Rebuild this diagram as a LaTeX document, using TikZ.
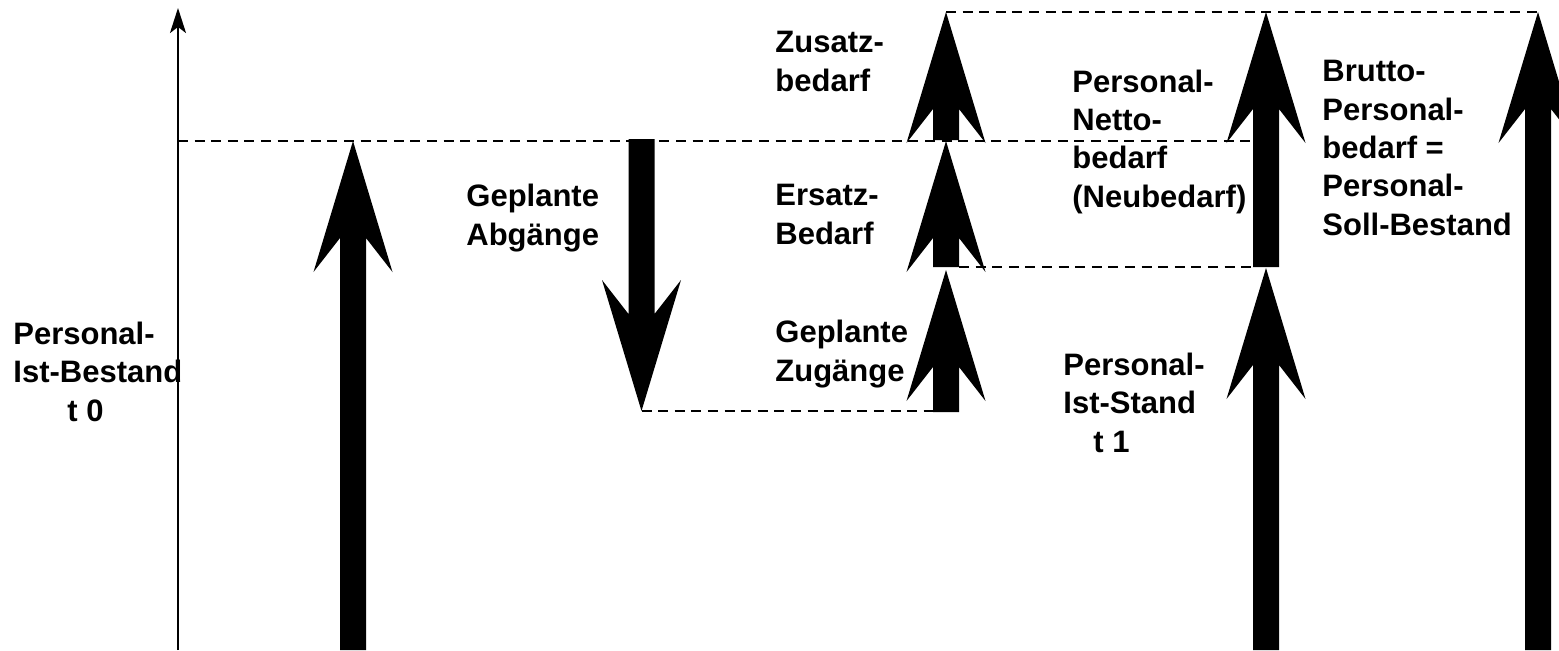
\documentclass[tikz,border=0pt]{standalone}
\usepackage{fontspec}
\setmainfont{Liberation Sans}
\usetikzlibrary{arrows.meta,calc}
\tikzset{
  dashline/.style={line width=1.2pt, dash pattern=on 5pt off 3.3pt},
  fatarrowfill/.style={fill=black},
  lbl/.style={anchor=base west, inner sep=0pt, align=left,
    font=\fontsize{15.5pt}{19.15pt}\selectfont\bfseries},
  axisline/.style={line width=1pt, -{Stealth[length=12.5pt,width=8pt,inset=3pt]}},
}
% #1 tail, #2 tip, #3 = 1 for an upward arrow, -1 for a downward one
\newcommand{\fatarrow}[3]{%
  \fill[fatarrowfill] ($(#1)+(-13,0)$) -- ($(#2)+(-13,#3*97)$) -- ($(#2)+(-39.5,#3*131)$)
    -- (#2) -- ($(#2)+(39.5,#3*131)$) -- ($(#2)+(13,#3*97)$) -- ($(#1)+(13,0)$) -- cycle;}
\begin{document}
\begin{tikzpicture}[x=0.5pt,y=-0.5pt]
\useasboundingbox (0,0) rectangle (1559,650);
% coordinates
\coordinate (axisB) at (178,650);
\coordinate (axisT) at (178,8);
\coordinate (istT) at (353,141);   \coordinate (istB) at (353,650);
\coordinate (abgT) at (641.5,139); \coordinate (abgB) at (641.5,411);
\coordinate (zugT) at (946,270);   \coordinate (zugB) at (946,412);
\coordinate (ersT) at (946,141);   \coordinate (ersB) at (946,267);
\coordinate (zusT) at (946,12);    \coordinate (zusB) at (946,140);
\coordinate (netT) at (1266,12);   \coordinate (netB) at (1266,267);
\coordinate (stdT) at (1266,268);  \coordinate (stdB) at (1266,650);
\coordinate (bruT) at (1538,12);   \coordinate (bruB) at (1538,650);
\coordinate (d1a) at (178,141);    \coordinate (d1b) at (1253,141);
\coordinate (d2a) at (959,267);    \coordinate (d2b) at (1253,267);
\coordinate (d3b) at (933,411);
% dashed guide lines
\draw[dashline] (d1a) -- (d1b);
\draw[dashline] (zusT) -- (bruT);
\draw[dashline] (d2a) -- (d2b);
\draw[dashline] (abgB) -- (d3b);
% axis
\draw[axisline] (axisB) -- (axisT);
% block arrows
\fatarrow{istB}{istT}{1}
\fatarrow{abgT}{abgB}{-1}
\fatarrow{zugB}{zugT}{1}
\fatarrow{ersB}{ersT}{1}
\fatarrow{zusB}{zusT}{1}
\fatarrow{netB}{netT}{1}
\fatarrow{stdB}{stdT}{1}
\fatarrow{bruB}{bruT}{1}
% labels (anchored at the baseline of their last line)
\node[lbl] (lIst) at (13,421) {Personal-\\Ist-Bestand\\\hspace*{27pt}t 0};
\node[lbl] (lAbg) at (466,245) {Geplante\\Abgänge};
\node[lbl] (lZus) at (775,91) {Zusatz-\\bedarf};
\node[lbl] (lErs) at (775,244) {Ersatz-\\Bedarf};
\node[lbl] (lZug) at (775,381) {Geplante\\Zugänge};
\node[lbl] (lStd) at (1063,452) {Personal-\\Ist-Stand\\\hspace*{15pt}t 1};
\node[lbl] (lNet) at (1072,207) {Personal-\\Netto-\\bedarf\\(Neubedarf)};
\node[lbl] (lBru) at (1322,235) {Brutto-\\Personal-\\bedarf =\\Personal-\\Soll-Bestand};
\end{tikzpicture}
\end{document}
